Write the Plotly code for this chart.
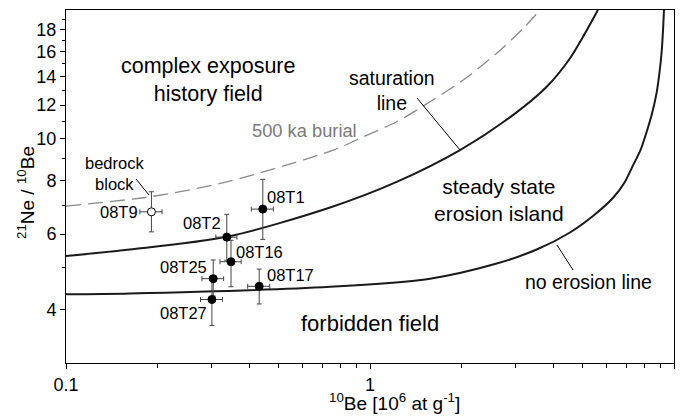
import plotly.graph_objects as go
import math

# ---------------- data ----------------
samples = ["08T9", "08T1", "08T2", "08T16", "08T25", "08T17", "08T27"]
be10 = [0.191, 0.444, 0.338, 0.349, 0.305, 0.432, 0.302]
be10_err = [0.016, 0.037, 0.027, 0.028, 0.025, 0.036, 0.025]
ratio = [6.76, 6.86, 5.90, 5.17, 4.72, 4.53, 4.22]
ratio_err_plus = [0.77, 1.19, 0.77, 0.63, 0.50, 0.44, 0.55]
ratio_err_minus = [0.69, 1.03, 0.69, 0.65, 0.42, 0.41, 0.55]

# saturation (steady-state erosion) line
sat_x = [0.1, 0.162, 0.338, 0.739, 1.224, 1.977, 2.953, 3.813, 4.549, 5.62]
sat_y = [5.33, 5.52, 5.91, 6.92, 7.94, 9.42, 11.37, 13.24, 15.43, 20.0]

# no erosion line
noer_x = [0.1, 0.162, 0.739, 1.576, 2.611, 3.535, 4.549, 5.4, 6.316, 6.9, 7.346,
          7.75, 8.132, 8.45, 8.772, 8.95, 9.11, 9.2, 9.27]
noer_y = [4.34, 4.36, 4.52, 4.72, 5.12, 5.52, 6.05, 6.6, 7.3, 7.95, 8.7,
          9.4, 10.4, 11.4, 12.85, 14.2, 16.0, 17.9, 20.0]

# 500 ka burial line
bur_x = [0.1, 0.189, 0.338, 0.757, 0.951, 1.224, 1.576, 2.027, 2.611, 3.194, 3.624]
bur_y = [6.97, 7.33, 7.94, 9.42, 10.12, 10.97, 12.21, 13.73, 15.85, 18.13, 20.0]

y_ticks = [4, 6, 8, 10, 12, 14, 16, 18]
y_minor = [5, 7, 9, 11, 13, 15, 17, 19]
x_ticks = [0.1, 1, 10]
x_minor = [0.2, 0.3, 0.4, 0.5, 0.6, 0.7, 0.8, 0.9, 2, 3, 4, 5, 6, 7, 8, 9]

# ---------------- layout geometry ----------------
W, H = 683, 417
L, R, T, B = 66, 9, 10, 54
PW, PH = W - L - R, H - T - B

def px(xp):
    return (xp - L) / PW

def py(yp):
    return (H - B - yp) / PH

FONT = "Liberation Sans, Arial, sans-serif"

fig = go.Figure()

fig.add_trace(go.Scatter(x=bur_x, y=bur_y, mode="lines", line_shape="spline",
                         line=dict(color="#8a8a8a", width=1.3, dash="15px,7px", smoothing=0.8),
                         hoverinfo="skip", showlegend=False))
fig.add_trace(go.Scatter(x=sat_x, y=sat_y, mode="lines", line_shape="spline",
                         line=dict(color="#1a1a1a", width=2, smoothing=0.8),
                         hoverinfo="skip", showlegend=False))
fig.add_trace(go.Scatter(x=noer_x, y=noer_y, mode="lines", line_shape="spline",
                         line=dict(color="#1a1a1a", width=2, smoothing=0.8),
                         hoverinfo="skip", showlegend=False))

fill = ["white"] + ["black"] * (len(samples) - 1)
fig.add_trace(go.Scatter(
    x=be10, y=ratio, mode="markers", text=samples,
    marker=dict(size=8, color=fill, line=dict(color="black", width=1)),
    error_x=dict(type="data", array=be10_err, color="#444", thickness=1, width=2.5),
    error_y=dict(type="data", array=ratio_err_plus, arrayminus=ratio_err_minus,
                 color="#444", thickness=1, width=2.5),
    showlegend=False))

ann = []

def text(xp, yp, s, size, color="black", xanchor="center"):
    ann.append(dict(x=px(xp), y=py(yp), xref="paper", yref="paper", text=s,
                    showarrow=False, xanchor=xanchor, yanchor="middle",
                    font=dict(family=FONT, size=size, color=color)))

text(208, 80, "complex exposure<br>history field", 21.5)
text(304, 130, "500 ka burial", 18.3, color="#7a7a7a")
text(392, 90, "saturation<br>line", 19.5)
text(499, 200, "steady state<br>erosion island", 21)
text(588, 282, "no erosion line", 19.5)
text(370, 323, "forbidden field", 22)
text(114, 173, "bedrock<br>block", 16.5)

lab_pos = {"08T9": (119, 212), "08T1": (286, 197), "08T2": (202, 223),
           "08T16": (259, 252), "08T25": (183, 267), "08T17": (290, 275),
           "08T27": (183, 313)}
for s in samples:
    text(lab_pos[s][0], lab_pos[s][1], s, 16.5)

# axis titles
text(395, 402, "<sup>10</sup>Be [10<sup>6</sup> at g<sup>-1</sup>]", 19)
ann.append(dict(x=px(26), y=py(193), xref="paper", yref="paper",
                text="<sup>21</sup>Ne / <sup>10</sup>Be", textangle=-90,
                showarrow=False, xanchor="center", yanchor="middle",
                font=dict(family=FONT, size=19, color="black")))

shapes = []
def leader(x0, y0, x1, y1):
    shapes.append(dict(type="line", xref="paper", yref="paper",
                       x0=px(x0), y0=py(y0), x1=px(x1), y1=py(y1),
                       line=dict(color="black", width=1)))

leader(417, 98, 460, 150)
leader(557, 245, 573, 270)
leader(136, 179, 149, 195)

fig.update_layout(
    width=W, height=H,
    margin=dict(l=L, r=R, t=T, b=B, pad=0),
    paper_bgcolor="white", plot_bgcolor="white",
    font=dict(family=FONT, size=18, color="black"),
    annotations=ann, shapes=shapes,
    xaxis=dict(type="log", range=[-1, 1], showgrid=False, zeroline=False,
               showline=True, mirror=True, linecolor="black", linewidth=1,
               ticks="outside", ticklen=5, tickcolor="black", automargin=False,
               tickmode="array", tickvals=x_ticks, ticktext=["0.1", "1", "10"],
               tickfont=dict(family=FONT, size=18),
               minor=dict(tickmode="array", tickvals=x_minor, ticks="outside",
                          ticklen=4, tickcolor="black", showgrid=False)),
    yaxis=dict(type="log", range=[math.log10(3), math.log10(20)], showgrid=False,
               zeroline=False, showline=True, mirror=True, linecolor="black",
               linewidth=1, ticks="outside", ticklen=5, tickcolor="black",
               automargin=False,
               tickmode="array", tickvals=y_ticks,
               ticktext=[str(v) for v in y_ticks],
               tickfont=dict(family=FONT, size=18),
               minor=dict(tickmode="array", tickvals=y_minor, ticks="outside",
                          ticklen=3, tickcolor="black", showgrid=False)),
)

fig.write_html("out.html", config={"displayModeBar": False},
               post_script="document.body.style.margin='0';document.body.style.padding='0';")
